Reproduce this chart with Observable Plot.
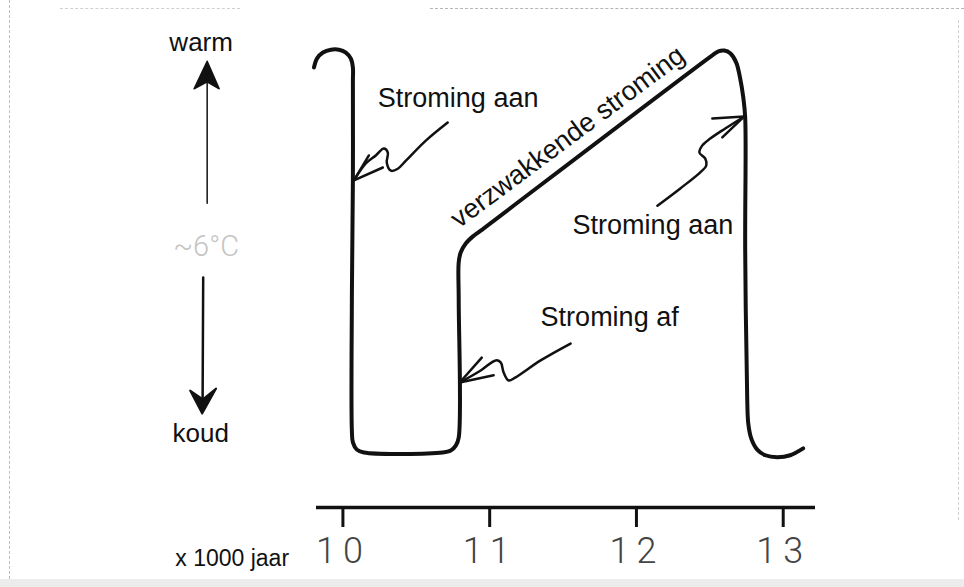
<!DOCTYPE html>
<html>
<head>
<meta charset="utf-8">
<script src="https://cdn.jsdelivr.net/npm/d3@7"></script>
<script src="https://cdn.jsdelivr.net/npm/@observablehq/plot@0.6"></script>
<style>
  html, body { margin: 0; padding: 0; background: #fff; }
  #wrap { position: relative; width: 964px; height: 587px; overflow: hidden;
          background: linear-gradient(to bottom, #fff 0, #fff 579px, #ececec 579px, #ececec 587px); }
  #wrap svg { position: absolute; left: 0; top: 0; }
  #wrap .tick-lab text { letter-spacing: 7px; }
  .edge-top { position: absolute; left: 430px; top: 8px; width: 534px; height: 0; border-top: 1px dashed #b5b5b5; }
  .edge-top2 { position: absolute; left: 60px; top: 8px; width: 180px; height: 0; border-top: 1px dashed #d0d0d0; }
  .edge-left { position: absolute; left: 9px; top: 0; width: 0; height: 579px; border-left: 1px dashed #bdbdbd; }
  .edge-right { position: absolute; left: 958px; top: 20px; width: 0; height: 500px; border-left: 1px dashed #d0d0d0; }
</style>
</head>
<body>
<div id="wrap"><div class="edge-top"></div><div class="edge-top2"></div><div class="edge-left"></div><div class="edge-right"></div></div>
<script>
// Time in thousands of years (x 1000 jaar); relative temperature (0 = koud, 10 = warm)
const curveKyr  = [9.803, 9.823, 9.864, 9.918, 9.973, 10.020, 10.054, 10.068, 10.068, 10.068, 10.061, 10.061, 10.068, 10.095, 10.143, 10.680, 10.735, 10.769, 10.789, 10.789, 10.789, 10.803, 10.837, 10.884, 10.939, 12.517, 12.558, 12.599, 12.639, 12.680, 12.707, 12.728, 12.741, 12.741, 12.755, 12.762, 12.782, 12.823, 12.878, 12.959, 13.048, 13.136];
const curveTemp = [9.58, 9.80, 9.95, 10.02, 10.02, 9.95, 9.80, 9.58, 9.25, 6.77, 3.78, 0.55, 0.25, 0.07, 0.00, 0.00, 0.05, 0.17, 0.37, 3.78, 4.73, 4.98, 5.20, 5.37, 5.52, 9.88, 9.98, 10.00, 9.93, 9.70, 9.30, 8.83, 8.33, 5.02, 1.29, 0.72, 0.35, 0.07, -0.07, -0.12, -0.07, 0.10];

// Annotation arrows (squiggly shafts and heads)
const arrowAanLeftKyr  = [10.714, 10.565, 10.429, 10.374, 10.327, 10.299, 10.306, 10.279, 10.224, 10.156, 10.075];
const arrowAanLeftTemp = [8.21, 7.76, 7.26, 7.06, 7.01, 7.21, 7.46, 7.56, 7.39, 7.19, 6.77];
const headAanLeftKyr   = [10.177, 10.075, 10.272];
const headAanLeftTemp  = [7.39, 6.77, 7.09];

const arrowAanRightKyr  = [12.143, 12.299, 12.435, 12.476, 12.469, 12.429, 12.449, 12.503, 12.605, 12.735];
const arrowAanRightTemp = [6.14, 6.57, 6.97, 7.14, 7.31, 7.46, 7.64, 7.81, 8.06, 8.36];
const headAanRightKyr   = [12.517, 12.735, 12.585];
const headAanRightTemp  = [8.31, 8.36, 7.84];

const arrowAfKyr  = [11.551, 11.347, 11.177, 11.129, 11.095, 11.075, 11.041, 10.939, 10.796];
const arrowAfTemp = [2.71, 2.29, 1.87, 1.79, 1.99, 2.24, 2.29, 2.04, 1.74];
const headAfKyr   = [10.946, 10.796, 11.027];
const headAfTemp  = [2.36, 1.74, 1.92];

// Labels
const labelTexts = ["Stroming aan", "Stroming aan", "Stroming af"];
const labelKyr   = [10.238, 11.565, 11.347];
const labelTemp  = [8.81, 5.64, 3.37];

const slopeText = "verzwakkende stroming";
const slopeKyr = 11.531, slopeTemp = 7.85, slopeAngle = -36.7;

const sideTexts = ["warm", "koud"];
const sideKyr   = [9.034, 9.031];
const sideTemp  = [10.19, 0.46];
const midText = "~6°C", midKyr = 9.068, midTemp = 5.12;

// Temperature-direction arrows: shafts and filled heads (tip, barb, notch, barb)
const upShaftKyr   = [9.075, 9.075];
const upShaftTemp  = [6.20, 9.40];
const upHeadKyr    = [9.075, 8.986, 9.075, 9.157, 9.075];
const upHeadTemp   = [9.73, 9.05, 9.22, 9.05, 9.73];
const downShaftKyr  = [9.048, 9.044];
const downShaftTemp = [4.35, 1.30];
const downHeadKyr   = [9.041, 8.959, 9.046, 9.136, 9.041];
const downHeadTemp  = [0.97, 1.54, 1.32, 1.59, 0.97];

const xTicks = [10, 11, 12, 13];
const xTickLabels = ["10", "11", "12", "13"];
const unitText = "x 1000 jaar", unitKyr = 9.633, unitTemp = -2.64;

const yMin = -1.37, yMax = 10.25;

const pts = (xs, ys) => xs.map((x, i) => ({x, y: ys[i]}));
const font = "'Liberation Sans', Arial, Helvetica, sans-serif";
const ink = "#111";

const chart = Plot.plot({
  width: 964,
  height: 587,
  marginLeft: 316,
  marginRight: 149,
  marginTop: 40,
  marginBottom: 80,
  x: {domain: [9.82, 13.22], axis: null},
  y: {domain: [yMin, yMax], axis: null},
  style: {fontFamily: font, background: "transparent", color: ink},
  marks: [
    Plot.ruleY([yMin], {stroke: ink, strokeWidth: 3.5}),
    Plot.axisX({ticks: xTicks, tickSize: 20, tickPadding: 10, strokeWidth: 3, stroke: ink,
      fontSize: 36, fontWeight: 300, fontFamily: "Roboto, 'DejaVu Sans', sans-serif", fill: "#444",
      tickFormat: (d) => xTickLabels[xTicks.indexOf(d)], label: null, className: "tick-lab"}),
    Plot.line(pts(curveKyr, curveTemp), {x: "x", y: "y", stroke: ink, strokeWidth: 4, curve: "catmull-rom"}),
    Plot.line(pts(arrowAanLeftKyr, arrowAanLeftTemp), {x: "x", y: "y", stroke: ink, strokeWidth: 2.5, curve: "catmull-rom"}),
    Plot.line(pts(headAanLeftKyr, headAanLeftTemp), {x: "x", y: "y", stroke: ink, strokeWidth: 2.5}),
    Plot.line(pts(arrowAanRightKyr, arrowAanRightTemp), {x: "x", y: "y", stroke: ink, strokeWidth: 2.5, curve: "catmull-rom"}),
    Plot.line(pts(headAanRightKyr, headAanRightTemp), {x: "x", y: "y", stroke: ink, strokeWidth: 2.5}),
    Plot.line(pts(arrowAfKyr, arrowAfTemp), {x: "x", y: "y", stroke: ink, strokeWidth: 2.5, curve: "catmull-rom"}),
    Plot.line(pts(headAfKyr, headAfTemp), {x: "x", y: "y", stroke: ink, strokeWidth: 2.5}),
    Plot.text(labelTexts, {x: (d, i) => labelKyr[i], y: (d, i) => labelTemp[i], text: (d) => d,
      textAnchor: "start", fontSize: 27, fill: ink}),
    Plot.text([slopeText], {x: () => slopeKyr, y: () => slopeTemp, text: (d) => d,
      rotate: slopeAngle, fontSize: 27, fill: ink}),
    Plot.text(sideTexts, {x: (d, i) => sideKyr[i], y: (d, i) => sideTemp[i], text: (d) => d,
      fontSize: 26, fill: ink}),
    Plot.text([midText], {x: () => midKyr, y: () => midTemp, text: (d) => d,
      fontSize: 29, fill: "#c4c4c4", fontFamily: "Roboto, sans-serif", fontWeight: 300,
      style: "letter-spacing:3px"}),
    Plot.line(pts(upShaftKyr, upShaftTemp), {x: "x", y: "y", stroke: ink, strokeWidth: 1.5}),
    Plot.line(pts(upHeadKyr, upHeadTemp), {x: "x", y: "y", stroke: ink, strokeWidth: 1.5, fill: ink}),
    Plot.line(pts(downShaftKyr, downShaftTemp), {x: "x", y: "y", stroke: ink, strokeWidth: 2.5}),
    Plot.line(pts(downHeadKyr, downHeadTemp), {x: "x", y: "y", stroke: ink, strokeWidth: 2, fill: ink}),
    Plot.text([unitText], {x: () => unitKyr, y: () => unitTemp, text: (d) => d,
      textAnchor: "end", fontSize: 23, fill: ink})
  ]
});
document.getElementById("wrap").appendChild(chart);
</script>
</body>
</html>
